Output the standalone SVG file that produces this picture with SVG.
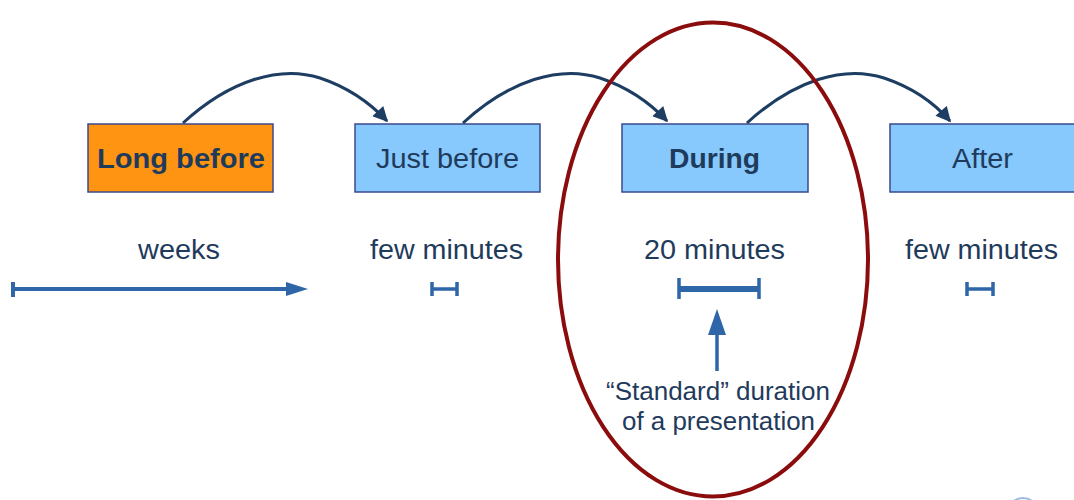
<svg xmlns="http://www.w3.org/2000/svg" width="1074" height="500" viewBox="0 0 1074 500">
  <style>
    .box { stroke: #3b4a8c; stroke-width: 1.5; }
    .blue { fill: #87c8fd; }
    .orange { fill: #ff9412; }
    .lbl { font-family: "Liberation Sans", Arial, sans-serif; font-size: 27px; fill: #1f3b5c; text-anchor: middle; }
    .b { font-weight: bold; }
    .hop { fill: none; stroke: #1d3d62; stroke-width: 3; }
    .span { stroke: #2e66a8; fill: none; }
    .note { font-family: "Liberation Sans", Arial, sans-serif; font-size: 25px; fill: #1f3b5c; text-anchor: middle; }
  </style>
  <defs>
    <marker id="hopHead" viewBox="0 0 10 10" refX="9" refY="5" markerWidth="17" markerHeight="15" markerUnits="userSpaceOnUse" orient="auto">
      <path d="M0,0 L10,5 L0,10 z" fill="#1d3d62"/>
    </marker>
  </defs>
  <rect width="1074" height="500" fill="#ffffff"/>

  <!-- phase boxes -->
  <g id="long-before">
    <rect class="box orange" x="88" y="124" width="185" height="68"/>
    <text class="lbl b" x="181" y="168" textLength="168" lengthAdjust="spacingAndGlyphs">Long before</text>
  </g>
  <g id="just-before">
    <rect class="box blue" x="355" y="124" width="185" height="68"/>
    <text class="lbl" x="447.5" y="168" textLength="143" lengthAdjust="spacingAndGlyphs">Just before</text>
  </g>
  <g id="during">
    <rect class="box blue" x="622" y="124" width="186" height="68"/>
    <text class="lbl b" x="714.5" y="168" textLength="91" lengthAdjust="spacingAndGlyphs">During</text>
  </g>
  <g id="after">
    <rect class="box blue" x="890" y="124" width="190" height="68"/>
    <text class="lbl" x="982.5" y="168" textLength="61" lengthAdjust="spacingAndGlyphs">After</text>
  </g>

  <!-- transitions between phases -->
  <g id="connectors">
    <path class="hop" d="M183,123 C230,80 280,65 320,78 C350,88 372,105 387,121" marker-end="url(#hopHead)"/>
    <path class="hop" d="M463,123 C510,80 560,65 600,78 C630,88 652,105 667,121" marker-end="url(#hopHead)"/>
    <path class="hop" d="M747,123 C794,80 844,65 884,78 C914,88 936,105 950,121" marker-end="url(#hopHead)"/>
  </g>

  <!-- durations -->
  <g id="durations">
    <text class="lbl" x="179" y="259" textLength="82" lengthAdjust="spacingAndGlyphs">weeks</text>
    <text class="lbl" x="446.5" y="259" textLength="153" lengthAdjust="spacingAndGlyphs">few minutes</text>
    <text class="lbl" x="714.5" y="259" textLength="141" lengthAdjust="spacingAndGlyphs">20 minutes</text>
    <text class="lbl" x="981.5" y="259" textLength="153" lengthAdjust="spacingAndGlyphs">few minutes</text>

    <path class="span" stroke-width="4" d="M13,289 H290 M13,282 V297"/>
    <path d="M286,282 L308,289 L286,296 z" fill="#2e66a8"/>

    <path class="span" stroke-width="3.5" d="M432,289 H457 M432,282 V296 M457,282 V296"/>
    <path class="span" stroke-width="6" d="M679,289 H759"/>
    <path class="span" stroke-width="3.5" d="M679,278 V299 M759,278 V299"/>
    <path class="span" stroke-width="3.5" d="M967,289 H993 M967,282 V296 M993,282 V296"/>
  </g>

  <!-- highlight of the talk itself -->
  <g id="highlight">
    <ellipse cx="713" cy="259.5" rx="155" ry="237" fill="none" stroke="#8b0c0c" stroke-width="4"/>
    <path class="span" stroke-width="3.5" d="M717,371 V330"/>
    <path d="M708,335 L717,309 L726,335 z" fill="#2e66a8"/>
    <text class="note" x="718" y="400" textLength="224" lengthAdjust="spacingAndGlyphs">“Standard” duration</text>
    <text class="note" x="718.5" y="430" textLength="193" lengthAdjust="spacingAndGlyphs">of a presentation</text>
  </g>

  <circle cx="1023" cy="513" r="15" fill="none" stroke="#9bbbe0" stroke-width="2"/>
</svg>
